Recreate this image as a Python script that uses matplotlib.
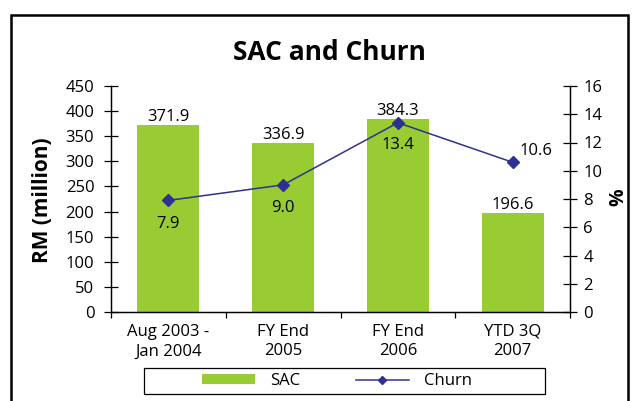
import matplotlib
matplotlib.use("Agg")
import matplotlib.pyplot as plt
from matplotlib.patches import Rectangle
from matplotlib.lines import Line2D
from matplotlib.patches import Patch

categories = ["Aug 2003 -\nJan 2004", "FY End\n2005", "FY End\n2006", "YTD 3Q\n2007"]
sac = [371.9, 336.9, 384.3, 196.6]
churn = [7.9, 9.0, 13.4, 10.6]
left_ticks = [0, 50, 100, 150, 200, 250, 300, 350, 400, 450]
right_ticks = [0, 2, 4, 6, 8, 10, 12, 14, 16]

plt.rcParams['font.family'] = ['Open Sans', 'DejaVu Sans']

W, H = 636, 401
fig = plt.figure(figsize=(W / 100, H / 100), dpi=100)

def fx(x):
    return x / W

def fy(y):
    return 1 - y / H

FS = 12

ax = fig.add_axes([fx(111), fy(312), fx(570) - fx(111), fy(86) - fy(312)])
ax2 = ax.twinx()

green = "#99CC33"
navy = "#2E3192"
x = list(range(len(categories)))

ax.bar(x, sac, width=0.54, color=green, zorder=2)
ax.set_xlim(-0.5, len(categories) - 0.5)
ax.set_ylim(0, 450)
ax.set_yticks(left_ticks)
ax.set_yticklabels([str(v) for v in left_ticks], fontsize=FS)
ax.tick_params(axis='y', direction='inout', length=10, width=0.9, pad=7)

ax.set_xticks([i - 0.5 for i in range(len(categories) + 1)])
ax.set_xticklabels([])
ax.tick_params(axis='x', which='major', direction='out', length=4, width=0.9)
ax.set_xticks(x, minor=True)
ax.set_xticklabels(categories, minor=True, fontsize=FS, linespacing=1.3)
ax.tick_params(axis='x', which='minor', length=0, pad=8.5)

for a in (ax, ax2):
    a.spines['top'].set_visible(False)
    for s in ['left', 'right', 'bottom']:
        a.spines[s].set_linewidth(0.9)

ax2.plot(x, churn, color=navy, marker='D', markersize=6, linewidth=1.1, zorder=3)
ax2.set_ylim(0, 16)
ax2.set_yticks(right_ticks)
ax2.set_yticklabels([str(v) for v in right_ticks], fontsize=FS)
ax2.tick_params(axis='y', direction='inout', length=10, width=0.9, pad=4.5)

for i, v in enumerate(sac):
    ax.annotate(f"{v:.1f}", (i, v), xytext=(0, 0), textcoords='offset points',
                ha='center', va='bottom', fontsize=FS)

offsets = [(0, -11, 'center', 'top'), (0, -11, 'center', 'top'),
           (0, -10, 'center', 'top'), (5, 2, 'left', 'bottom')]
for i, v in enumerate(churn):
    dx, dy, ha, va = offsets[i]
    ax2.annotate(f"{v:.1f}", (i, v), xytext=(dx, dy), textcoords='offset points',
                 ha=ha, va=va, fontsize=FS)

fig.text(fx(329), fy(53), "SAC and Churn", ha='center', va='center',
         fontsize=19, fontweight='bold')
fig.text(fx(43), fy(200), "RM (million)", ha='center', va='center',
         rotation=90, fontsize=15, fontweight='bold')
fig.text(fx(618), fy(197), "%", ha='center', va='center',
         rotation=90, fontsize=14, fontweight='bold')

# outer frame
fig.add_artist(Rectangle((fx(11), fy(410)), fx(628) - fx(11), fy(15) - fy(410),
                         transform=fig.transFigure, fill=False,
                         edgecolor='black', linewidth=1.8))
# legend frame
fig.add_artist(Rectangle((fx(144), fy(394)), fx(545) - fx(144), fy(368) - fy(394),
                         transform=fig.transFigure, fill=False,
                         edgecolor='black', linewidth=0.9))
handles = [Patch(facecolor=green, edgecolor='none'),
           Line2D([0], [0], color=navy, marker='D', markersize=4.5, linewidth=1.1)]
fig.legend(handles, ["SAC", "Churn"], loc='center', bbox_to_anchor=(fx(337), fy(381)),
           ncol=2, frameon=False, fontsize=FS, handlelength=3.2, handleheight=0.5,
           columnspacing=3.3, handletextpad=0.9)

fig.savefig("out.png", dpi=100)
